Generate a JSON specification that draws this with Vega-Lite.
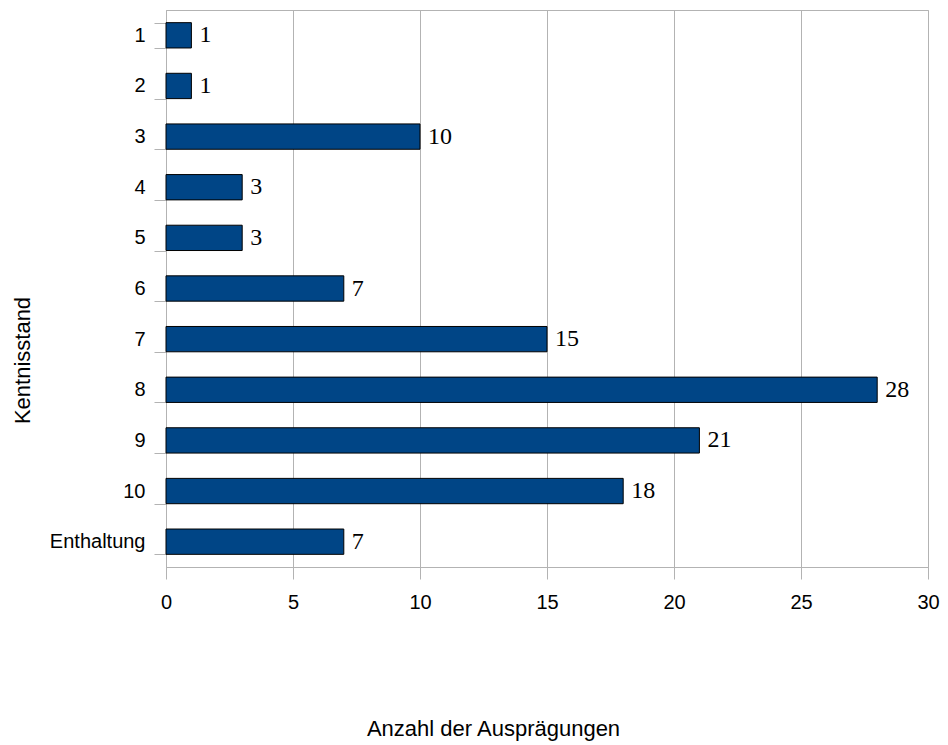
{
  "$schema": "https://vega.github.io/schema/vega-lite/v6.json",
  "autosize": {"type": "none"},
  "padding": {"left": 166, "top": 10, "right": 20, "bottom": 178},
  "width": 762,
  "height": 557,
  "background": "white",
  "config": {
    "view": {"stroke": "#b3b3b3", "strokeWidth": 1},
    "font": "Liberation Sans"
  },
  "data": {
    "values": [
      {"Kentnisstand": "1", "Anzahl": 1},
      {"Kentnisstand": "2", "Anzahl": 1},
      {"Kentnisstand": "3", "Anzahl": 10},
      {"Kentnisstand": "4", "Anzahl": 3},
      {"Kentnisstand": "5", "Anzahl": 3},
      {"Kentnisstand": "6", "Anzahl": 7},
      {"Kentnisstand": "7", "Anzahl": 15},
      {"Kentnisstand": "8", "Anzahl": 28},
      {"Kentnisstand": "9", "Anzahl": 21},
      {"Kentnisstand": "10", "Anzahl": 18},
      {"Kentnisstand": "Enthaltung", "Anzahl": 7}
    ]
  },
  "encoding": {
    "y": {
      "field": "Kentnisstand",
      "type": "nominal",
      "sort": null,
      "scale": {"paddingInner": 0.5, "paddingOuter": 0.25},
      "axis": {
        "title": "Kentnisstand",
        "titleFont": "Liberation Sans",
        "titleFontSize": 22,
        "titleFontWeight": "normal",
        "titleColor": "black",
        "titleAngle": 270,
        "titleX": -144,
        "titleY": 350,
        "titleAlign": "center",
        "titleBaseline": "middle",
        "labelFont": "Liberation Sans",
        "labelFontSize": 20,
        "labelColor": "black",
        "labelPadding": 9,
        "tickSize": 12,
        "tickBand": "extent",
        "tickColor": "#b3b3b3",
        "domainColor": "#b3b3b3",
        "grid": false
      }
    },
    "x": {
      "field": "Anzahl",
      "type": "quantitative",
      "scale": {"domain": [0, 30], "nice": false},
      "axis": {
        "title": "Anzahl der Ausprägungen",
        "titleFont": "Liberation Sans",
        "titleFontSize": 22,
        "titleFontWeight": "normal",
        "titleColor": "black",
        "titleX": 327,
        "titleY": 161,
        "titleAlign": "center",
        "titleBaseline": "middle",
        "values": [0, 5, 10, 15, 20, 25, 30],
        "labelFont": "Liberation Sans",
        "labelFontSize": 20,
        "labelColor": "black",
        "labelPadding": 13,
        "labelFlush": false,
        "tickSize": 12,
        "tickColor": "#b3b3b3",
        "domainColor": "#b3b3b3",
        "grid": true,
        "gridColor": "#b3b3b3"
      }
    }
  },
  "layer": [
    {
      "mark": {"type": "bar", "color": "#004586", "stroke": "black", "strokeWidth": 1}
    },
    {
      "mark": {"type": "text", "align": "left", "baseline": "middle", "dx": 8, "font": "Liberation Serif", "fontSize": 24, "color": "black"},
      "encoding": {"text": {"field": "Anzahl", "type": "quantitative"}}
    }
  ]
}
